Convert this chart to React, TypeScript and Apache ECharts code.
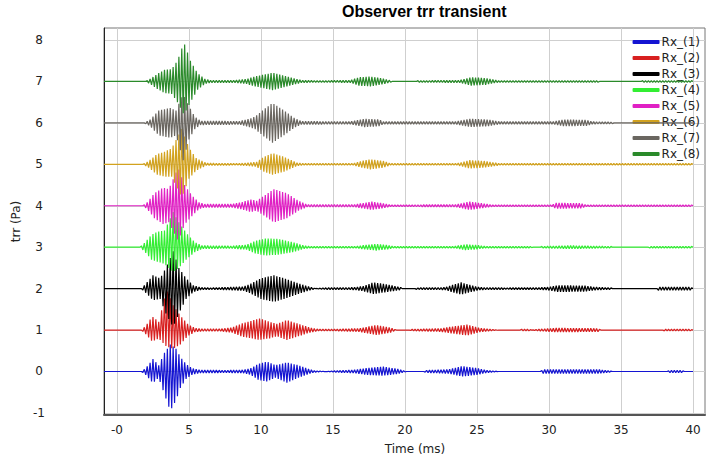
import React, { useEffect, useRef } from "react";
import * as echarts from "echarts";

// Envelope of each trace: [time (ms), upper amplitude, lower amplitude] (Pa)
const names = ["Rx_(1)", "Rx_(2)", "Rx_(3)", "Rx_(4)", "Rx_(5)", "Rx_(6)", "Rx_(7)", "Rx_(8)"];
const colors = ["#1414d2", "#d82020", "#000000", "#33ee33", "#e020c4", "#d2a21e", "#6a6660", "#2a8a2a"];
const offsets = [0, 1, 2, 3, 4, 5, 6, 7];
const xTicks = [0, 5, 10, 15, 20, 25, 30, 35, 40];
const yTicks = [-1, 0, 1, 2, 3, 4, 5, 6, 7, 8];

const rx1: number[][] = [[-0.9,0,0],[1.7,0,0],[2.0,0.08,0.08],[2.5,0.3,0.28],[2.9,0.15,0.15],[3.3,0.45,0.55],[3.7,0.65,0.95],[4.1,0.55,0.7],[4.4,0.35,0.4],[4.8,0.18,0.18],[5.2,0.08,0.08],[5.7,0.04,0.04],[7.5,0.03,0.03],[8.8,0.04,0.04],[9.3,0.08,0.08],[9.8,0.18,0.2],[10.4,0.24,0.24],[11.0,0.15,0.15],[11.8,0.22,0.27],[12.6,0.15,0.15],[13.3,0.06,0.06],[13.7,0.02,0.02],[14.5,0,0],[15.2,0.02,0.02],[16.5,0.04,0.04],[17.3,0.08,0.08],[18.5,0.12,0.1],[19.5,0.06,0.06],[20.1,0,0],[21.3,0,0],[21.5,0.03,0.03],[23.0,0.05,0.05],[24.0,0.13,0.12],[25.0,0.08,0.08],[25.7,0.03,0.03],[26.5,0,0],[29.4,0,0],[29.6,0.05,0.05],[33.4,0.05,0.05],[34.2,0.02,0.02],[34.4,0,0],[38.2,0,0],[38.4,0.03,0.03],[39.2,0.03,0.03],[39.4,0,0],[40,0,0]];
const rx2: number[][] = [[-0.9,0,0],[1.7,0,0],[2.0,0.1,0.1],[2.45,0.33,0.28],[2.9,0.2,0.2],[3.45,0.97,0.4],[3.9,0.6,0.45],[4.4,0.35,0.35],[4.9,0.15,0.15],[5.4,0.05,0.05],[6.0,0.03,0.03],[7.2,0.03,0.03],[8.0,0.06,0.06],[8.6,0.15,0.15],[9.9,0.28,0.24],[10.6,0.2,0.2],[11.1,0.15,0.15],[11.8,0.24,0.24],[12.6,0.15,0.15],[13.4,0.06,0.06],[14.0,0.02,0.02],[15.0,0.02,0.02],[16.8,0.04,0.04],[18.0,0.12,0.12],[19.0,0.06,0.06],[19.4,0,0],[20.3,0,0],[20.5,0.02,0.02],[22.5,0.04,0.04],[23.2,0.08,0.08],[24.3,0.13,0.13],[25.2,0.05,0.05],[26.0,0.02,0.02],[26.5,0,0],[28.0,0,0],[28.1,0.02,0.02],[28.6,0.02,0.02],[28.8,0,0],[29.2,0.02,0.02],[30.5,0.05,0.05],[33.4,0.04,0.04],[33.6,0,0],[37.9,0,0],[38.0,0.02,0.02],[39.8,0.02,0.02],[40,0,0]];
const rx3: number[][] = [[-0.9,0,0],[1.7,0,0],[2.0,0.12,0.1],[2.5,0.32,0.28],[3.0,0.25,0.25],[3.4,0.5,0.6],[3.9,0.9,0.93],[4.3,0.5,0.6],[4.8,0.25,0.25],[5.3,0.08,0.08],[5.8,0.03,0.03],[6.5,0.02,0.02],[7.4,0.03,0.03],[8.8,0.05,0.05],[9.3,0.12,0.12],[10.0,0.25,0.25],[10.9,0.32,0.32],[11.6,0.25,0.25],[12.4,0.15,0.15],[13.2,0.06,0.06],[13.8,0,0],[14.3,0.02,0.02],[16.5,0.03,0.03],[17.1,0.06,0.06],[17.8,0.15,0.13],[18.8,0.1,0.08],[19.7,0.03,0.03],[19.8,0,0],[20.7,0,0],[20.8,0.02,0.02],[22.8,0.03,0.03],[23.2,0.08,0.08],[23.9,0.15,0.14],[24.6,0.08,0.08],[25.2,0.03,0.03],[27.0,0.02,0.02],[29.8,0.03,0.03],[30.6,0.08,0.08],[32.5,0.07,0.07],[33.1,0.04,0.04],[34.3,0.02,0.02],[34.4,0,0],[37.5,0,0],[37.6,0.04,0.04],[39.8,0.04,0.04],[40,0,0]];
const rx4: number[][] = [[-0.9,0,0],[1.6,0,0],[1.9,0.1,0.1],[2.4,0.3,0.3],[2.8,0.37,0.35],[3.3,0.4,0.4],[3.9,0.85,0.6],[4.3,0.6,0.5],[4.8,0.35,0.3],[5.4,0.12,0.12],[5.9,0.04,0.04],[8.0,0.03,0.03],[9.0,0.06,0.06],[9.6,0.15,0.15],[10.3,0.21,0.2],[11.2,0.2,0.18],[12.2,0.12,0.12],[13.0,0.04,0.04],[13.5,0.02,0.02],[16.5,0.02,0.02],[17.2,0.05,0.05],[18.0,0.08,0.08],[18.8,0.05,0.05],[19.2,0.02,0.02],[23.4,0.02,0.02],[24.2,0.07,0.07],[25.0,0.05,0.05],[25.6,0.02,0.02],[28.7,0.02,0.02],[28.9,0,0],[29.4,0,0],[29.5,0.02,0.02],[31.5,0.04,0.04],[34.3,0.02,0.02],[34.4,0,0],[36.9,0,0],[37.0,0.02,0.02],[40,0.02,0.02]];
const rx5: number[][] = [[-0.9,0,0],[1.8,0,0],[2.1,0.08,0.08],[2.6,0.3,0.3],[3.2,0.44,0.44],[3.6,0.4,0.4],[4.25,0.92,0.85],[4.7,0.5,0.45],[5.2,0.25,0.25],[5.7,0.08,0.08],[6.1,0.04,0.04],[8.0,0.04,0.04],[8.6,0.08,0.08],[9.3,0.15,0.15],[9.7,0.12,0.12],[10.9,0.4,0.4],[11.8,0.3,0.3],[12.6,0.12,0.12],[13.2,0.03,0.03],[16.5,0.03,0.03],[17.7,0.1,0.1],[18.6,0.05,0.05],[19.0,0.02,0.02],[23.5,0.03,0.03],[24.5,0.1,0.1],[25.5,0.05,0.05],[26.1,0.02,0.02],[30.2,0.02,0.02],[30.5,0.07,0.07],[32.2,0.06,0.06],[32.6,0.02,0.02],[40,0.02,0.02]];
const rx6: number[][] = [[-0.9,0,0],[1.8,0,0],[2.2,0.08,0.08],[2.8,0.25,0.25],[3.3,0.3,0.3],[3.8,0.39,0.3],[4.5,0.85,0.8],[5.0,0.4,0.35],[5.5,0.15,0.15],[6.2,0.03,0.03],[8.5,0.02,0.02],[9.7,0.06,0.06],[10.2,0.18,0.18],[10.8,0.27,0.25],[11.6,0.18,0.18],[12.5,0.04,0.04],[13.0,0.02,0.02],[16.4,0.02,0.02],[17.0,0.08,0.08],[17.6,0.12,0.12],[18.5,0.08,0.08],[19.0,0.02,0.02],[23.6,0.02,0.02],[24.5,0.1,0.1],[25.5,0.08,0.08],[26.6,0.02,0.02],[40,0.02,0.02]];
const rx7: number[][] = [[-0.9,0,0],[1.9,0,0],[2.3,0.08,0.08],[2.9,0.3,0.3],[3.7,0.36,0.36],[4.1,0.3,0.3],[4.6,0.7,0.9],[5.0,0.4,0.4],[5.4,0.15,0.15],[5.8,0.05,0.05],[8.5,0.04,0.04],[9.2,0.1,0.1],[9.6,0.15,0.15],[10.1,0.3,0.3],[10.8,0.48,0.48],[11.6,0.3,0.3],[12.3,0.12,0.12],[12.8,0.04,0.04],[16.2,0.03,0.03],[17.2,0.1,0.1],[18.2,0.08,0.08],[18.5,0.03,0.03],[23.5,0.03,0.03],[24.5,0.1,0.1],[25.8,0.08,0.08],[26.6,0.03,0.03],[30.3,0.03,0.03],[31.0,0.08,0.08],[32.6,0.07,0.07],[33.0,0.03,0.03],[34.4,0.02,0.02],[34.5,0,0],[40,0,0]];
const rx8: number[][] = [[-0.9,0,0],[2.0,0,0],[2.3,0.06,0.06],[2.8,0.18,0.18],[3.3,0.28,0.28],[3.8,0.3,0.3],[4.2,0.5,0.5],[4.65,0.94,0.8],[5.1,0.5,0.5],[5.6,0.2,0.2],[6.1,0.06,0.06],[6.5,0.03,0.03],[8.1,0.03,0.03],[9.0,0.06,0.06],[9.6,0.12,0.12],[10.8,0.21,0.21],[11.8,0.12,0.12],[12.8,0.03,0.03],[14.1,0.02,0.02],[16.2,0.03,0.03],[16.8,0.1,0.1],[17.6,0.12,0.12],[18.6,0.06,0.06],[19.0,0.02,0.02],[19.1,0,0],[20.8,0,0],[20.9,0.02,0.02],[23.8,0.03,0.03],[24.6,0.1,0.1],[25.6,0.08,0.08],[26.5,0.02,0.02],[33.4,0.02,0.02],[33.5,0,0],[36.4,0,0],[36.5,0.02,0.02],[40,0.02,0.02]];
const envelopes = [rx1, rx2, rx3, rx4, rx5, rx6, rx7, rx8];

// half period of the carrier seen in the picture (ms)
const HALF_PERIOD = 0.1;

function envAt(env: number[][], t: number, idx: number): number {
  for (let i = 0; i < env.length - 1; i++) {
    const a = env[i], b = env[i + 1];
    if (t >= a[0] && t <= b[0]) {
      const f = b[0] === a[0] ? 0 : (t - a[0]) / (b[0] - a[0]);
      return a[idx] + (b[idx] - a[idx]) * f;
    }
  }
  return 0;
}

function trace(env: number[][], base: number): number[][] {
  const pts: number[][] = [];
  const n = Math.round((40 + 0.9) / HALF_PERIOD);
  for (let k = 0; k <= n; k++) {
    const t = -0.9 + k * HALF_PERIOD;
    const up = k % 2 === 0;
    const a = envAt(env, t, up ? 1 : 2);
    pts.push([+t.toFixed(2), base + (up ? a : -a)]);
  }
  return pts;
}

const FONT = "DejaVu Sans";

export default function App() {
  const ref = useRef<HTMLDivElement>(null);
  useEffect(() => {
    if (!ref.current) return;
    const chart = echarts.init(ref.current, null, { renderer: "svg" });
    chart.setOption({
      animation: false,
      backgroundColor: "#ffffff",
      title: {
        text: "Observer trr transient",
        left: 342,
        top: 3,
        padding: 0,
        textStyle: { fontFamily: "Liberation Sans", fontWeight: "bold", fontSize: 16, color: "#000" },
      },
      legend: {
        orient: "vertical",
        right: 10,
        top: 36,
        padding: 0,
        itemWidth: 27,
        itemHeight: 4,
        itemGap: 4,
        icon: "roundRect",
        textStyle: { fontFamily: FONT, fontSize: 12, color: "#222", padding: [0, 0, 0, -3] },
        data: names,
      },
      grid: {
        left: 104,
        right: 5,
        top: 28,
        bottom: 45,
        show: true,
        borderColor: "#777",
        borderWidth: 1,
      },
      xAxis: {
        type: "value",
        min: -0.9,
        max: 40.83,
        name: "Time (ms)",
        nameLocation: "middle",
        nameGap: 28,
        nameTextStyle: { fontFamily: FONT, fontSize: 12, color: "#222", padding: [0, 0, 0, 21] },
        axisLine: { show: true, onZero: false, lineStyle: { color: "#555", width: 2 } },
        axisTick: { show: false, customValues: xTicks },
        axisLabel: {
          customValues: xTicks,
          margin: 9,
          fontFamily: FONT,
          fontSize: 12,
          color: "#222",
          formatter: (v: number) => (v === 0 ? "-0" : String(v)),
        },
        splitLine: { show: true, lineStyle: { color: "#cfcfcf", width: 1 } },
      },
      yAxis: {
        type: "value",
        min: -1.05,
        max: 8.29,
        name: "trr (Pa)",
        nameLocation: "middle",
        nameGap: 70,
        nameTextStyle: { fontFamily: FONT, fontSize: 12, color: "#222" },
        axisLine: { show: true, onZero: false, lineStyle: { color: "#222", width: 1 } },
        axisTick: { show: false, customValues: yTicks },
        axisLabel: {
          customValues: yTicks,
          margin: 65,
          align: "center",
          fontFamily: FONT,
          fontSize: 12,
          color: "#222",
        },
        splitLine: { show: true, lineStyle: { color: "#cfcfcf", width: 1 } },
      },
      series: envelopes.map((env, i) => ({
        name: names[i],
        type: "line",
        data: trace(env, offsets[i]),
        showSymbol: false,
        symbol: "none",
        lineStyle: { color: colors[i], width: 1.2 },
        itemStyle: { color: colors[i] },
        z: 2 + i,
      })),
    });
    return () => chart.dispose();
  }, []);
  return <div ref={ref} style={{ width: 710, height: 460, position: "absolute", left: 0, top: 0 }} />;
}
